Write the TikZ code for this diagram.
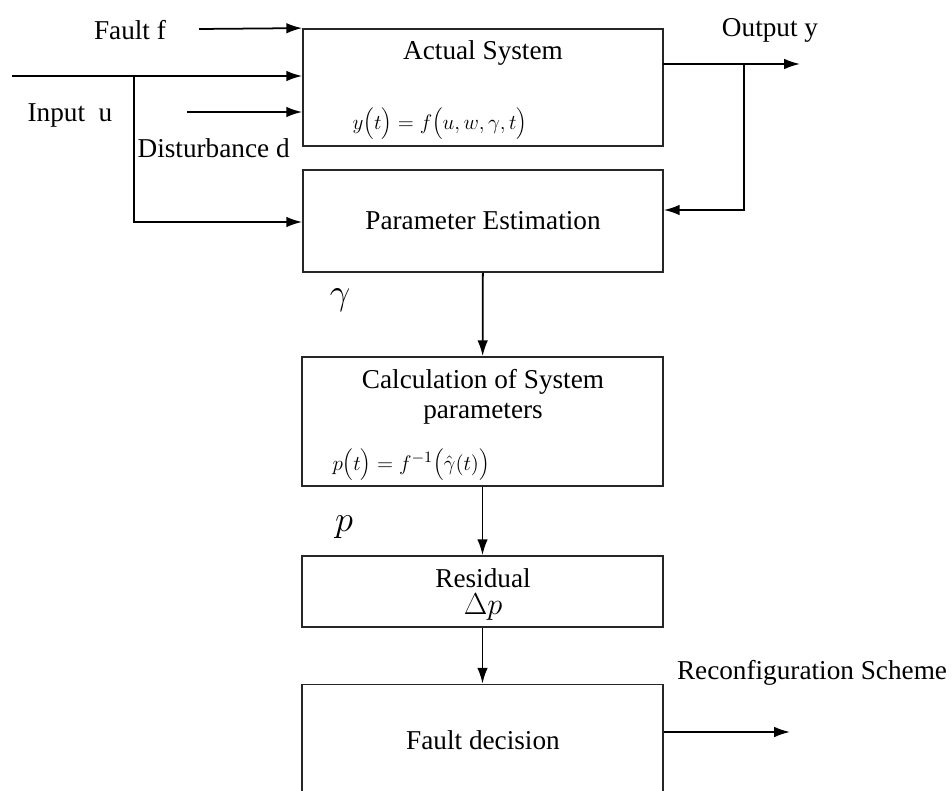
\documentclass[tikz,border=0pt]{standalone}
\usepackage{fontspec}
\setmainfont{Liberation Serif}
\usetikzlibrary{calc,arrows.meta}

\tikzset{
  block/.style={draw, rectangle, inner sep=0pt, line width=1pt, draw=black!85},
  txt/.style={inner sep=1pt, font=\fontsize{15.5}{18}\selectfont},
  eqtxt/.style={inner sep=1pt, font=\fontsize{12.5}{15}\selectfont},
  bigsym/.style={inner sep=0pt, font=\fontsize{20}{22}\selectfont}
}

\begin{document}
\begin{tikzpicture}[x=0.02cm, y=-0.02cm, line width=1pt, >={Latex[length=9pt,width=6pt]}]
\useasboundingbox (0,0) rectangle (952,790);

% the actual system and its inputs
\node[block, minimum width=7.2cm, minimum height=2.34cm] (actual) at (483,87.5) {};
\node[txt] (actual_title) at (483,53) {Actual System};
\node[eqtxt] (actual_eq) at (440,124) {$y\Bigl(t\Bigr)=f\Bigl(u,w,\gamma,t\Bigr)$};

\coordinate (fault_start) at (199,29);
\coordinate (input_start) at (12,76);
\coordinate (dist_start) at (187,112);
\coordinate (input_split) at (134,76);
\node[txt] (fault_label) at (130,30) {Fault f};
\node[txt] (input_label) at (70,115) {Input\ \ u};
\node[txt, anchor=west] (dist_label) at (135,148) {Disturbance d};

\draw[->] (fault_start) -- (actual.north west);
\draw[->] (input_start) -- (input_start -| actual.west);
\draw[->] (dist_start) -- (dist_start -| actual.west);

% output and feedback
\coordinate (out_start) at (663,64);
\coordinate (out_end) at (800,64);
\coordinate (out_split) at (744,64);
\node[txt] (output_label) at (770,30) {Output y};
\draw[->] (out_start) -- (out_end);

% plot the estimation
\node[block, minimum width=7.2cm, minimum height=2.04cm, txt] (estim) at (483,221) {Parameter Estimation};
\draw[->] (input_split) -- (134,222) -- (134,222 -| estim.west);
\draw[->] (out_split) -- (744,210) -- (744,210 -| estim.east);

% system parameters
\node[block, minimum width=7.22cm, minimum height=2.58cm] (calc) at (482.5,421.5) {};
\node[txt] (calc_title) at (483,382) {Calculation of System};
\node[txt] (calc_title2) at (483,414) {parameters};
\node[eqtxt] (calc_eq) at (411,465) {$p\Bigl(t\Bigr)=f^{-1}\Bigl(\hat{\gamma}(t)\Bigr)$};
\node[bigsym] (gamma_label) at (340,300) {$\gamma$};
\draw[->] (estim) -- (calc);

% residual
\node[block, minimum width=7.22cm, minimum height=1.42cm] (resid) at (482.5,591.5) {};
\node[txt] (resid_title) at (483,578) {Residual};
\node[bigsym, font=\fontsize{18}{20}\selectfont] (resid_sym) at (483,607) {$\Delta p$};
\node[bigsym] (p_label) at (344,527) {$p$};
\draw[->] (calc) -- (resid);

% fault decision
\node[block, minimum width=7.22cm, minimum height=2.3cm] (decision) at (482.5,742) {};
\node[txt] (decision_title) at (483,740) {Fault decision};
\draw[->] (resid) -- (decision);

\coordinate (reconf_end) at (790,732);
\node[txt] (reconf_label) at (812,673) {Reconfiguration Scheme};
\draw[->] (reconf_end -| decision.east) -- (reconf_end);

\end{tikzpicture}
\end{document}
